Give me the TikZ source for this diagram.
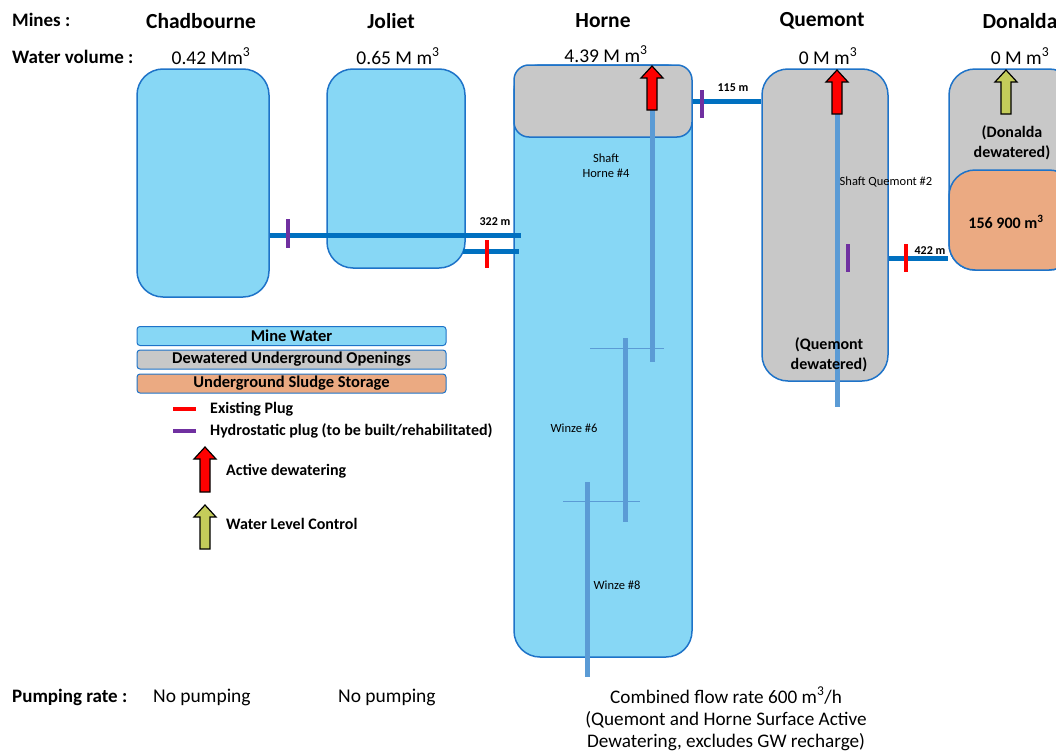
\documentclass[tikz,border=0pt]{standalone}
\usepackage{fontspec}
\setmainfont{Carlito}
\usetikzlibrary{positioning}
\definecolor{waterblue}{RGB}{135,215,245}
\definecolor{edgeblue}{RGB}{30,115,200}
\definecolor{pipeblue}{RGB}{0,112,192}
\definecolor{shaftblue}{RGB}{91,155,213}
\definecolor{drygray}{RGB}{200,200,200}
\definecolor{sludgeorange}{RGB}{235,170,130}
\definecolor{plugred}{RGB}{255,0,0}
\definecolor{plugpurple}{RGB}{112,48,160}
\definecolor{levelgreen}{RGB}{196,204,90}
% block arrow: x, tip y, tail y, fill
\newcommand{\blockarrow}[4]{%
  \draw[line width=1.2pt,fill=#4,line join=miter] (#1,#2) -- ({#1+11},{#2+12}) -- ({#1+5},{#2+12})
    -- ({#1+5},#3) -- ({#1-5},#3) -- ({#1-5},{#2+12}) -- ({#1-11},{#2+12}) -- cycle;}
\begin{document}
\begin{tikzpicture}[x=1pt,y=-1pt,
  mine/.style={draw=edgeblue,line width=1.5pt,fill=waterblue,rounded corners=26pt,inner sep=0pt},
  dry/.style={mine,fill=drygray},
  sludge/.style={mine,fill=sludgeorange},
  head/.style={font=\fontsize{21.5}{25}\selectfont\bfseries},
  vol/.style={font=\fontsize{19.5}{23}\selectfont},
  lbl/.style={font=\fontsize{19}{22}\selectfont\bfseries,anchor=west,inner xsep=0pt},
  pump/.style={font=\fontsize{19.5}{22}\selectfont,anchor=west,inner xsep=0pt},
  pipe/.style={pipeblue,line width=5pt},
  shaft/.style={shaftblue,line width=5pt},
  level/.style={shaftblue,line width=1pt},
  plug/.style={line width=4pt},
  small/.style={font=\fontsize{12.5}{15}\selectfont,align=center},
  dist/.style={font=\fontsize{12}{14}\selectfont\bfseries},
  state/.style={font=\fontsize{16}{20}\selectfont\bfseries,align=center},
  keybox/.style={draw=edgeblue,line width=1pt,rounded corners=3pt,minimum width=309pt,
    minimum height=19pt,inner sep=0pt,font=\fontsize{16.5}{18}\selectfont\bfseries},
  key/.style={font=\fontsize{16}{18}\selectfont\bfseries,anchor=west,inner xsep=0pt}]
\useasboundingbox (0,0) rectangle (1056,752);
% row titles
\node[lbl] (mines) at (12,20) {Mines :};
\node[lbl] (volume) at (12,57) {Water volume :};
\node[lbl] (rate) at (12,697) {Pumping rate :};
% mines
\node[mine,minimum width=132pt,minimum height=228pt] (chad) at (203,183) {};
\node[mine,minimum width=138pt,minimum height=199pt] (joliet) at (396,168.5) {};
\node[mine,minimum width=178pt,minimum height=592pt] (horne) at (603,361) {};
\node[dry,rounded corners=15pt,minimum width=178pt,minimum height=72pt] (hornetop) at (603,101) {};
\node[dry,minimum width=126pt,minimum height=312pt] (quemont) at (825,225) {};
\node[dry,minimum width=126pt,minimum height=201pt] (donalda) at (1012,169.5) {};
\node[sludge,minimum width=126pt,minimum height=100pt] (donsludge) at (1012,220) {};
% names and volumes
\node[head] (nchad) at (201,21) {Chadbourne};
\node[head] (njoliet) at (391,21) {Joliet};
\node[head] (nhorne) at (603,21) {Horne};
\node[head] (nquemont) at (822,21) {Quemont};
\node[head] (ndonalda) at (1020,21) {Donalda};
\node[vol] (vchad) at (211,56) {0.42 Mm\textsuperscript{3}};
\node[vol] (vjoliet) at (398,56) {0.65 M m\textsuperscript{3}};
\node[vol] (vhorne) at (606,54) {4.39 M m\textsuperscript{3}};
\node[vol] (vquemont) at (828,56) {0 M m\textsuperscript{3}};
\node[vol] (vdonalda) at (1020,56) {0 M m\textsuperscript{3}};
% drifts between mines
\draw[pipe] (chad.east |- 0,235) -- ([xshift=8pt]horne.west |- 0,235);
\draw[pipe] ([xshift=-3pt]joliet.east |- 0,251) -- ([xshift=6pt]horne.west |- 0,251);
\draw[pipe] (hornetop.east |- 0,101) -- (quemont.west |- 0,101);
\draw[pipe] (quemont.east |- 0,258) -- (donsludge.west |- 0,258);
\node[dist] (d322) at (495,222) {322 m};
\node[dist] (d115) at (733,88) {115 m};
\node[dist] (d422) at (930,251) {422 m};
% plugs
\draw[plug,plugpurple] (288,219) -- (288,248);
\draw[plug,plugred] (487,240) -- (487,268);
\draw[plug,plugpurple] (702,90) -- (702,118);
\draw[plug,plugred] (906,244) -- (906,272);
\draw[plug,plugpurple] (848,244) -- (848,272);
% shafts and winzes
\draw[shaft] (652,110) -- (652,362);
\draw[shaft] (837,112) -- (837,407);
\draw[shaft] (625,338) -- (625,522);
\draw[shaft] (587,482) -- (587,677);
\draw[level] (590,348) -- (664,348);
\draw[level] (563,501) -- (640,501);
\node[small] (shaft4) at (606,166) {Shaft\\Horne \#4};
\node[small] (shaft2) at (886,182) {Shaft Quemont \#2};
\node[small] (winze6) at (574,428) {Winze \#6};
\node[small] (winze8) at (617,585) {Winze \#8};
\node[state] (qdry) at (829,355) {(Quemont\\dewatered)};
\node[state] (ddry) at (1012,143) {(Donalda\\dewatered)};
\node[state] (dvol) at (1006,222) {156 900 m\textsuperscript{3}};
% pumps
\blockarrow{652}{66}{110}{plugred}
\blockarrow{837}{70}{114}{plugred}
\blockarrow{1006}{70}{114}{levelgreen}
% legend
\node[keybox,fill=waterblue] (kwater) at (291.5,336) {Mine Water};
\node[keybox,fill=drygray] (kdry) at (291.5,359.5) {Dewatered Underground Openings};
\node[keybox,fill=sludgeorange] (ksludge) at (291.5,383.5) {Underground Sludge Storage};
\draw[plug,plugred] (173,409) -- (196,409);
\draw[plug,plugpurple] (173,431) -- (196,431);
\node[key] (kplug) at (210,409) {Existing Plug};
\node[key] (khydro) at (210,431) {Hydrostatic plug (to be built/rehabilitated)};
\blockarrow{205}{447}{492}{plugred}
\blockarrow{205}{505}{549}{levelgreen}
\node[key] (kactive) at (226,471) {Active dewatering};
\node[key] (klevel) at (226,524) {Water Level Control};
% pumping rates
\node[pump] (pchad) at (153,697) {No pumping};
\node[pump] (pjoliet) at (338,697) {No pumping};
\node[font=\fontsize{19.2}{22}\selectfont,align=center] (phorne) at (726,719)
  {Combined flow rate 600 m\textsuperscript{3}/h\\(Quemont and Horne Surface Active\\Dewatering, excludes GW recharge)};
\end{tikzpicture}
\end{document}
